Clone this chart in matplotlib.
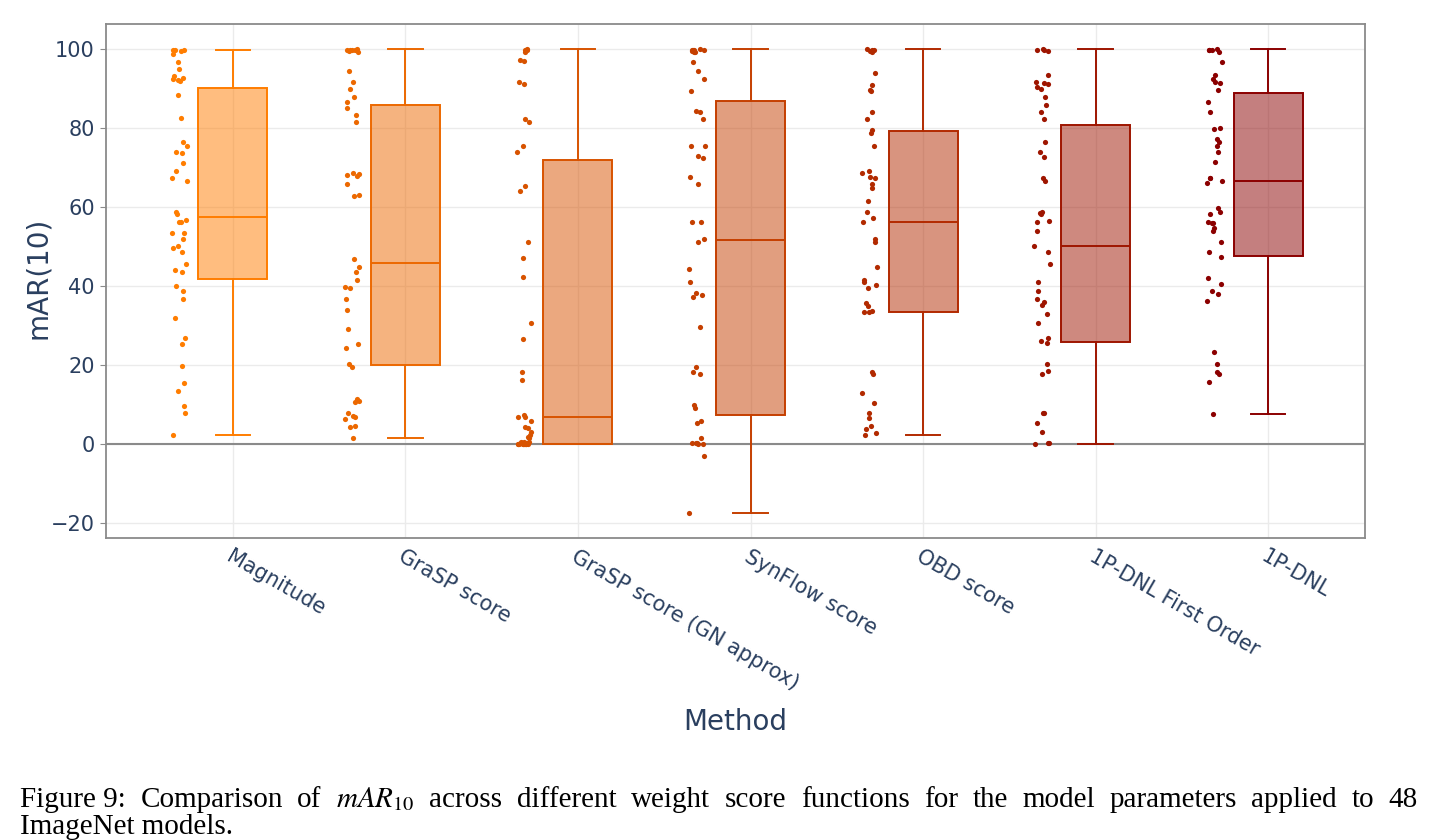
import numpy as np
import matplotlib
matplotlib.use("Agg")
import matplotlib.pyplot as plt

# --- data ---
methods = ["Magnitude", "GraSP score", "GraSP score (GN approx)", "SynFlow score",
           "OBD score", "1P-DNL First Order", "1P-DNL"]

magnitude = [99.8, 99.7, 99.6, 99.4, 98.8, 96.6, 94.8, 93.2, 92.6, 92.4, 92.1, 91.9,
             88.4, 82.4, 76.5, 75.3, 73.8, 73.6, 71.0, 69.0, 67.3, 66.6, 58.8, 58.2,
             56.7, 56.3, 56.1, 53.5, 53.3, 52.0, 50.1, 49.5, 48.6, 45.6, 44.0, 43.5,
             40.0, 38.6, 36.6, 31.8, 26.9, 25.2, 19.7, 15.5, 13.4, 9.6, 7.8, 2.3]
grasp = [99.9, 99.8, 99.8, 99.7, 99.6, 99.4, 99.2, 94.4, 91.6, 89.8, 87.8, 86.5,
         85.1, 83.3, 81.4, 68.5, 68.3, 68.0, 67.9, 65.7, 63.1, 62.7, 46.9, 44.7,
         43.5, 41.4, 39.8, 39.6, 36.6, 34.0, 29.0, 25.2, 24.4, 20.3, 19.6, 11.4,
         11.0, 10.5, 7.9, 7.1, 6.9, 6.3, 4.6, 4.4, 1.6]
grasp_gn = [99.9, 99.7, 99.6, 99.3, 97.1, 96.9, 91.5, 91.0, 82.2, 81.4, 75.4, 74.0,
            65.3, 64.1, 51.0, 47.1, 42.2, 30.6, 26.6, 18.2, 16.1, 7.3, 6.9, 6.8,
            5.7, 4.4, 4.0, 3.1, 2.3, 1.7, 1.4, 0.6, 0.5, 0.4, 0.3, 0.3, 0.2, 0.2,
            0.1, 0.1, 0.1, 0.0, 0.0, 0.0, 0.0, 0.0, 0.0, 0.0]
synflow = [99.9, 99.8, 99.8, 99.7, 99.6, 99.5, 99.3, 99.1, 96.6, 94.5, 92.3, 89.4,
           84.2, 84.0, 82.2, 75.5, 75.3, 72.9, 72.3, 67.5, 65.9, 56.3, 56.1, 52.0,
           51.2, 44.4, 40.9, 38.3, 37.7, 37.3, 29.6, 19.5, 18.3, 17.7, 9.8, 9.0,
           5.7, 5.4, 1.6, 0.3, 0.2, 0.2, 0.1, 0.0, -3.0, -17.5]
obd = [99.9, 99.8, 99.6, 99.4, 99.2, 93.8, 90.9, 89.5, 89.3, 84.1, 82.2, 79.5,
       78.6, 75.5, 69.0, 68.7, 67.5, 67.3, 65.9, 64.9, 61.6, 58.6, 57.3, 56.3,
       52.0, 51.2, 44.7, 41.5, 40.9, 40.3, 39.6, 35.6, 34.8, 33.7, 33.5, 33.4,
       18.2, 17.6, 12.8, 10.3, 7.9, 6.5, 4.6, 3.7, 2.7, 2.3]
dnl_first = [99.9, 99.8, 99.7, 99.5, 93.4, 91.7, 91.3, 91.1, 90.3, 89.9, 87.8, 85.8,
             84.1, 82.2, 76.5, 73.8, 72.7, 67.4, 66.6, 58.8, 58.4, 58.1, 56.5, 56.2,
             53.9, 50.0, 48.5, 45.6, 41.1, 38.6, 36.6, 35.9, 35.2, 32.9, 30.6, 26.8,
             26.0, 25.5, 20.3, 18.5, 17.6, 7.9, 7.8, 5.2, 3.1, 0.3, 0.2, 0.0]
dnl = [99.9, 99.8, 99.7, 99.6, 99.3, 96.6, 93.4, 92.3, 91.7, 91.3, 89.6, 86.6,
       84.1, 79.9, 79.8, 77.1, 76.5, 75.3, 73.8, 71.3, 67.4, 67.3, 66.6, 66.0,
       59.8, 58.8, 58.1, 56.3, 56.0, 55.9, 54.6, 53.8, 51.1, 48.7, 47.2, 42.0,
       40.5, 38.6, 37.9, 36.2, 23.3, 20.2, 18.2, 17.7, 15.8, 7.5]
points = [magnitude, grasp, grasp_gn, synflow, obd, dnl_first, dnl]

# box statistics as drawn
q1 = [41.8, 19.9, 0.0, 7.3, 33.4, 25.7, 47.6]
med = [57.5, 45.9, 6.9, 51.6, 56.3, 50.0, 66.6]
q3 = [90.0, 85.8, 71.9, 86.8, 79.3, 80.8, 88.9]
whis_lo = [2.3, 1.6, 0.0, -17.5, 2.3, 0.0, 7.5]
whis_hi = [99.8, 99.9, 99.9, 99.9, 99.9, 99.9, 99.9]

caption_1 = ("Figure 9: Comparison of $mAR_{10}$ across different weight score functions "
             "for the model parameters applied to 48")
caption_2 = "ImageNet models."

# colours: dark orange -> dark red
c0 = np.array([255, 125, 0]) / 255
c1 = np.array([139, 0, 0]) / 255
colors = [tuple(c0 + (c1 - c0) * i / 6) for i in range(7)]

TXT = "#2a3f5f"
plt.rcParams["mathtext.fontset"] = "stix"

fig = plt.figure(figsize=(14.38, 8.4), dpi=100)
ax = fig.add_axes([106 / 1438, 1 - 538 / 840, (1365 - 106) / 1438, (538 - 24) / 840])

ax.set_xlim(-0.736, 6.562)
ax.set_ylim(-23.8, 106.3)
ax.set_yticks(range(-20, 101, 20))
ax.set_xticks(range(7))
ax.grid(True, color="#ebebeb", linewidth=1, zorder=0)
ax.set_axisbelow(True)
ax.axhline(0, color="#8a8a8a", linewidth=1.5, zorder=1)

for sp in ax.spines.values():
    sp.set_color("#8a8a8a")
    sp.set_linewidth(1.3)

stats = []
for i in range(7):
    stats.append(dict(med=med[i], q1=q1[i], q3=q3[i], whislo=whis_lo[i],
                      whishi=whis_hi[i], fliers=[], label=methods[i]))

rng = np.random.default_rng(3)
for i, (st, c) in enumerate(zip(stats, colors)):
    ax.bxp([st], positions=[i], widths=0.4, capwidths=0.2, patch_artist=True,
           showfliers=False, manage_ticks=False,
           boxprops=dict(facecolor=c + (0.5,), edgecolor=c, linewidth=1.4),
           medianprops=dict(color=c, linewidth=1.4),
           whiskerprops=dict(color=c, linewidth=1.4),
           capprops=dict(color=c, linewidth=1.4), zorder=3)
    vals = np.array(points[i])
    # small horizontal jitter, only for display
    xs = i - 0.31 + rng.uniform(-0.045, 0.045, len(vals))
    ax.scatter(xs, vals, s=14, color=c, linewidths=0, zorder=4)

ax.tick_params(axis="y", labelsize=15, labelcolor=TXT, color="#8a8a8a", length=4, pad=4)
ax.tick_params(axis="x", length=0, pad=6)
ax.set_xticklabels(methods, rotation=-30, ha="left", va="top",
                   rotation_mode="anchor", fontsize=15, color=TXT)

fig.text(38 / 1438, 1 - 278 / 840, "mAR(10)", rotation=90, ha="center", va="center",
         fontsize=20, color=TXT)
fig.text(735 / 1438, 1 - 722 / 840, "Method", ha="center", va="center",
         fontsize=20, color=TXT)

# caption, first line justified between x=20 and x=1418 px
cap_kw = dict(ha="left", va="baseline", fontsize=21, family="Liberation Serif")
renderer = fig.canvas.get_renderer()
words = caption_1.replace("Figure 9:", "Figure\u00a09:").split(" ")
objs = [fig.text(0, 0, w, **cap_kw) for w in words]
widths = [o.get_window_extent(renderer).width for o in objs]
gap = (1398 - sum(widths)) / (len(words) - 1)
x = 20.0
for o, w in zip(objs, widths):
    o.set_position((x / 1438, 1 - 807 / 840))
    x += w + gap
fig.text(20 / 1438, 1 - 834 / 840, caption_2, **cap_kw)

fig.savefig("out.png", dpi=100)
